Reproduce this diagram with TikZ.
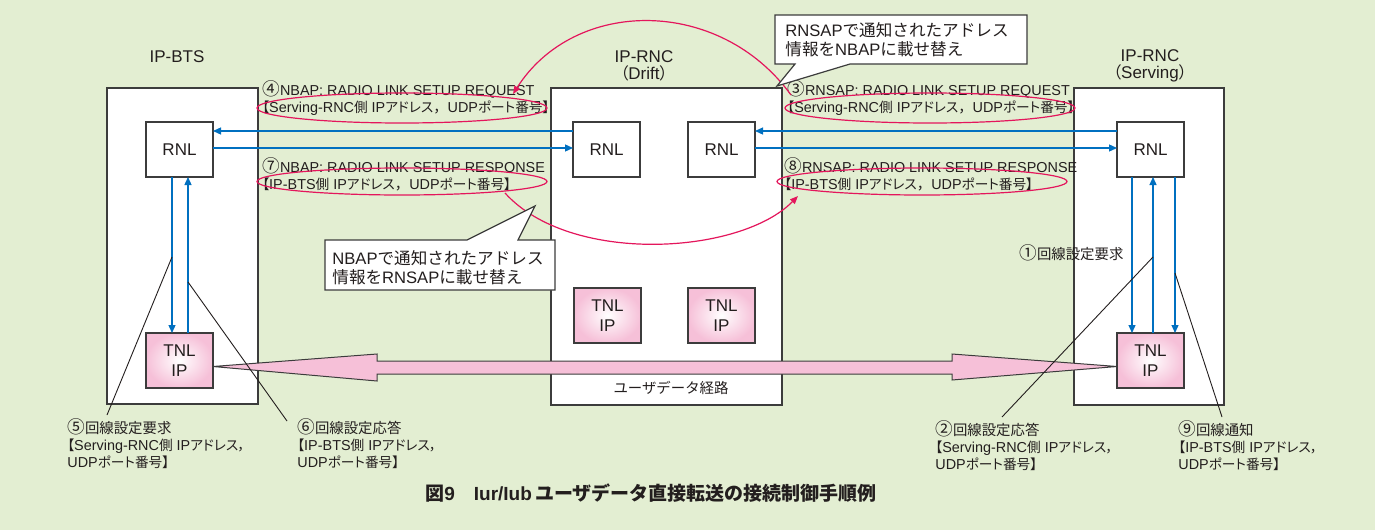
\documentclass[tikz,border=0pt]{standalone}
\usepackage{fontspec}
\setmainfont{Liberation Sans}
\newfontfamily\jpp[RawFeature=+palt,Scale=0.95]{Noto Sans CJK JP}
\newfontfamily\jpw{Noto Sans CJK JP}
\newcommand{\jj}[1]{{\jpp #1}}
\newcommand{\jjf}[1]{{\jpw #1}}
\newcommand{\cnum}[1]{{\fontsize{8.8}{8.5}\selectfont\jpw #1}}
\usetikzlibrary{arrows.meta,shapes.geometric,calc}
\definecolor{bgc}{RGB}{227,238,210}
\definecolor{bordc}{RGB}{60,60,60}
\definecolor{txtc}{RGB}{35,30,30}
\definecolor{bluec}{RGB}{0,112,192}
\definecolor{redc}{RGB}{228,22,92}
\definecolor{pinkc}{RGB}{246,192,216}
\tikzset{
 bx/.style={draw=bordc, line width=0.65pt, fill=white, inner sep=0pt, outer sep=0pt},
 rnl/.style={bx, minimum width=33.5pt, minimum height=27.5pt, text=txtc, font=\fontsize{8.5}{10}\selectfont},
 tnl/.style={draw=bordc, line width=0.65pt, inner sep=0pt, outer sep=0pt, inner color=white, outer color=pinkc, minimum width=33.5pt, minimum height=27.5pt, align=center, text=txtc, font=\fontsize{8.5}{10}\selectfont},
 txt/.style={inner sep=0pt, text=txtc, font=\fontsize{7.2}{8.5}\selectfont, align=left},
 ttl/.style={inner sep=0pt, text=txtc, font=\fontsize{8.5}{8.5}\selectfont, align=center},
 ctxt/.style={inner sep=0pt, text=txtc, font=\fontsize{8.3}{9.5}\selectfont, align=left},
 barrow/.style={draw=bluec, line width=0.65pt, -{Triangle[length=4pt,width=3.5pt]}},
 rarrow/.style={draw=redc, line width=0.6pt, -{Triangle[length=4pt,width=3.2pt]}},
 rell/.style={draw=redc, line width=0.6pt, ellipse, inner sep=0pt},
 leader/.style={draw=txtc, line width=0.45pt},
 band/.style={fill=pinkc, draw=bordc, line width=0.5pt},
 call/.style={fill=white, draw=bordc, line width=0.6pt},
}
\begin{document}
\begin{tikzpicture}[x=0.5pt,y=-0.5pt]
\fill[bgc] (0,0) rectangle (1375,530);
\useasboundingbox (0,0) rectangle (1375,530);
% titles
\node[ttl] (tbts) at (177,57) {IP-BTS};
\node[ttl] (tdrift) at (644,66) {IP-RNC\\\jj{（}Drift\jj{）}};
\node[ttl] (tserv) at (1150,66) {IP-RNC\\\jj{（}Serving\jj{）}};
% equipment boxes
\node[bx, minimum width=75.5pt, minimum height=158pt] (bts) at (182.5,246) {};
\node[bx, minimum width=115.5pt, minimum height=158.5pt] (drift) at (666.5,246.5) {};
\node[bx, minimum width=75pt, minimum height=158.5pt] (serv) at (1149,246.5) {};
% RNL
\node[rnl] (rnlB) at (179.5,149.5) {RNL};
\node[rnl] (rnlD1) at (606.5,149.5) {RNL};
\node[rnl] (rnlD2) at (721.5,149.5) {RNL};
\node[rnl] (rnlS) at (1150.5,149.5) {RNL};
% TNL
\node[tnl] (tnlB) at (179.5,360.5) {TNL\\IP};
\node[tnl] (tnlD1) at (607.5,315.5) {TNL\\IP};
\node[tnl] (tnlD2) at (721.5,315.5) {TNL\\IP};
\node[tnl] (tnlS) at (1150.5,360.5) {TNL\\IP};
% blue arrows
\draw[barrow] (rnlD1.west |- 0,131) -- (rnlB.east |- 0,131);
\draw[barrow] (rnlB.east |- 0,148) -- (rnlD1.west |- 0,148);
\draw[barrow] (rnlS.west |- 0,131) -- (rnlD2.east |- 0,131);
\draw[barrow] (rnlD2.east |- 0,148) -- (rnlS.west |- 0,148);
\draw[barrow] (rnlB.south -| 172,0) -- (tnlB.north -| 172,0);
\draw[barrow] (tnlB.north -| 188,0) -- (rnlB.south -| 188,0);
\draw[barrow] (rnlS.south -| 1132,0) -- (tnlS.north -| 1132,0);
\draw[barrow] (tnlS.north -| 1153,0) -- (rnlS.south -| 1153,0);
\draw[barrow] (rnlS.south -| 1175,0) -- (tnlS.north -| 1175,0);
% user data band
\coordinate (bL) at ($(tnlB.east)+(0,6)$);
\coordinate (bR) at ($(tnlS.west)+(0,6)$);
\filldraw[band] (bL) -- (377,354) -- (377,361) -- (952,361) -- (952,354) -- (bR) -- (952,380) -- (952,374) -- (377,374) -- (377,381) -- cycle;
\node[txt, font=\fontsize{7.2}{8.5}\selectfont\jpw] (udpath) at (671,388) {ユーザデータ経路};
% leader lines
\coordinate (k5) at (172,257); \coordinate (k5e) at (107,415);
\coordinate (k6) at (188,282); \coordinate (k6e) at (287,421);
\coordinate (k2) at (1153,257); \coordinate (k2e) at (1002,417);
\coordinate (k9) at (1175,273); \coordinate (k9e) at (1222,417);
\draw[leader] (k5) -- (k5e);
\draw[leader] (k6) -- (k6e);
\draw[leader] (k2) -- (k2e);
\draw[leader] (k9) -- (k9e);
% message labels
\node[txt, anchor=west] (m4) at (262,98.5) {\cnum{④}NBAP: RADIO LINK SETUP REQUEST\\\jj{【}Serving-RNC\jj{側} IP\jj{アドレス}\jjf{，}UDP\jj{ポート番号】}};
\node[txt, anchor=west] (m7) at (262,174) {\cnum{⑦}NBAP: RADIO LINK SETUP RESPONSE\\\jj{【}IP-BTS\jj{側} IP\jj{アドレス}\jjf{，}UDP\jj{ポート番号】}};
\node[txt, anchor=west] (m3) at (787,98.5) {\cnum{③}RNSAP: RADIO LINK SETUP REQUEST\\\jj{【}Serving-RNC\jj{側} IP\jj{アドレス}\jjf{，}UDP\jj{ポート番号】}};
\node[txt, anchor=west] (m8) at (784,174) {\cnum{⑧}RNSAP: RADIO LINK SETUP RESPONSE\\\jj{【}IP-BTS\jj{側} IP\jj{アドレス}\jjf{，}UDP\jj{ポート番号】}};
% red ellipses
\node[rell, minimum width=145pt, minimum height=15pt] (e4) at (402,108) {};
\node[rell, minimum width=145pt, minimum height=13.5pt] (e7) at (402,181.5) {};
\node[rell, minimum width=145pt, minimum height=15pt] (e3) at (930,108) {};
\node[rell, minimum width=145pt, minimum height=13.5pt] (e8) at (922,181.5) {};
% red arcs
\coordinate (a1s) at (791,95); \coordinate (a1e) at (513,94);
\coordinate (a2s) at (505,193); \coordinate (a2e) at (798,196);
\draw[rarrow] (a1s) .. controls (720,-3) and (575,-3) .. (a1e);
\draw[rarrow] (a2s) .. controls (570,265) and (740,255) .. (a2e);
% callouts
\path[call] (775,15) -- (1027,15) -- (1027,64) -- (850,64) -- (777,86) -- (795,64) -- (775,64) -- cycle;
\node[ctxt, anchor=west] (cb1) at (785,40) {RNSAP\jjf{で通知されたアドレス}\\\jjf{情報を}NBAP\jjf{に載せ替え}};
\path[call] (325,240) -- (467,240) -- (535,206) -- (518,240) -- (555,240) -- (555,290) -- (325,290) -- cycle;
\node[ctxt, anchor=west] (cb2) at (332,268) {NBAP\jjf{で通知されたアドレス}\\\jjf{情報を}RNSAP\jjf{に載せ替え}};
% bottom labels
\node[txt, anchor=west] (lab1) at (1019,253) {\cnum{①}\jjf{回線設定要求}};
\node[txt, anchor=west] (lab5) at (67,444) {\cnum{⑤}\jjf{回線設定要求}\\\jj{【}Serving-RNC\jj{側} IP\jj{アドレス，}\\UDP\jj{ポート番号】}};
\node[txt, anchor=west] (lab6) at (297,444) {\cnum{⑥}\jjf{回線設定応答}\\\jj{【}IP-BTS\jj{側} IP\jj{アドレス，}\\UDP\jj{ポート番号】}};
\node[txt, anchor=west] (lab2) at (935,446) {\cnum{②}\jjf{回線設定応答}\\\jj{【}Serving-RNC\jj{側} IP\jj{アドレス，}\\UDP\jj{ポート番号】}};
\node[txt, anchor=west] (lab9) at (1178,446) {\cnum{⑨}\jjf{回線通知}\\\jj{【}IP-BTS\jj{側} IP\jj{アドレス，}\\UDP\jj{ポート番号】}};
% caption
\node[inner sep=0pt, text=txtc, font=\bfseries\fontsize{9.5}{11}\selectfont] (cap) at (651,493) {\jjf{図}9\jjf{　}Iur/Iub\,\jjf{ユーザデータ直接転送の接続制御手順例}};
\end{tikzpicture}
\end{document}
